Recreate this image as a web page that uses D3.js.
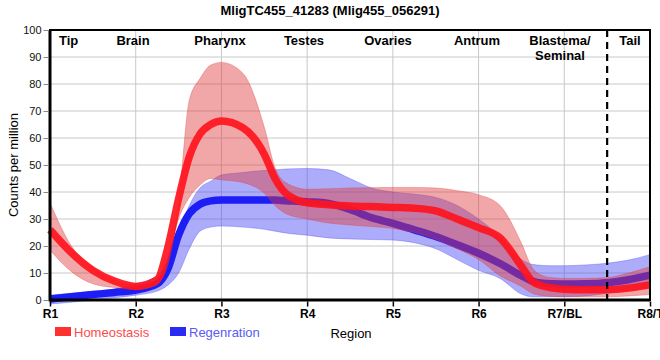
<!DOCTYPE html>
<html><head><meta charset="utf-8">
<script src="https://cdn.jsdelivr.net/npm/d3@7"></script>
<style>
body{margin:0;background:#fff}
svg{display:block;font-family:"Liberation Sans",Arial,sans-serif}
</style>
</head><body>
<svg id="chart" width="660" height="360"></svg>
<script>
// ---------- data ----------
const chartTitle = "MligTC455_41283 (Mlig455_056291)";
const regions = ["R1","R2","R3","R4","R5","R6","R7/BL","R8/T"];
const tissues = ["Tip","Brain","Pharynx","Testes","Ovaries","Antrum","Blastema/\nSeminal","Tail"];
const yTicks = [0,10,20,30,40,50,60,70,80,90,100];
const seriesNames = ["Homeostasis","Regenration"];

// sample positions along the body, in region units (0 = R1 ... 7 = R8/T)
const pos = [0,0.25,0.5,0.75,1,1.25,1.375,1.5,1.625,1.75,1.875,2,2.25,2.5,2.625,2.75,3,3.25,3.5,3.75,4,4.25,4.5,4.75,5,5.25,5.5,5.625,5.75,5.875,6,6.25,6.5,6.75,7];

const homMean  = [26,17.5,11,7,5,7.5,19.5,37.5,53,61.5,65,66.3,63.8,54,45,39.5,36,35.3,34.8,34.6,34.3,34,33,30,26.8,23,12.5,7,5.2,4.4,4,3.8,3.8,4.4,5.6];
const homUpper = [36,20,12,7.5,5.6,6.5,13,36,74,82,87,88,84,64,49,43.5,41,41.2,41.5,41.6,41.7,41.7,41.5,40.5,39,35,21,12,9,8.2,8,8,8.3,10,12.3];
const homLower = [18.5,10.5,6,4.6,3.9,5.5,15,30,38,42.6,45,44.5,43.5,39.5,35,32,30,28.5,27.8,27.2,26.5,25,22.5,19,15,9,5,2.5,1.6,1.3,1.2,1.2,1.2,1.5,2];

const regMean  = [0.4,1.2,2,2.8,3.7,6,11.5,24,32,35.5,36.7,37,37,37,37,36.8,36.4,35.8,33.5,30.5,28.4,26,23.5,20.5,17.3,13.5,9,7,6.2,6,5.9,6,6.4,7.5,9.2];
const regUpper = [1.8,2.5,3.2,4,6,9,15,25,35,41.5,44,46.3,47.2,48,48.2,48.5,48.7,48.2,45,41.5,40,39.2,38,35,30,23.5,15,13.2,12.8,12.7,12.7,13,13.6,14.8,16.8];
const regLower = [-1.5,-0.8,0,0.8,1.8,3.3,5.5,10,19,25.5,27,27.4,27,26.2,25.5,24.8,24,23,22.6,22.4,22.2,21.2,19,15,11,8,2.2,1.2,1.2,1.2,1.2,1.5,2.5,3.5,4.5];

// ---------- layout ----------
const svg = d3.select("#chart");
const L = 50, R = 650, T = 30, B = 300;
const x = d3.scaleLinear().domain([0, regions.length - 1]).range([L, R]);
const y = d3.scaleLinear().domain([0, 100]).range([B, T]);

// grid
svg.append("g").selectAll("line").data(yTicks.slice(1)).join("line")
  .attr("x1", L).attr("x2", R).attr("y1", d => y(d)).attr("y2", d => y(d))
  .attr("stroke", "#c8c8c8").attr("stroke-width", 1);
svg.append("g").selectAll("line").data(regions.slice(1, -1)).join("line")
  .attr("x1", (d, i) => x(i + 1)).attr("x2", (d, i) => x(i + 1))
  .attr("y1", T).attr("y2", B)
  .attr("stroke", "#c8c8c8").attr("stroke-width", 1);

// bands and lines
const pts = (lo, hi) => pos.map((p, i) => ({p, lo: lo[i], hi: hi[i]}));
const area = d3.area().x(d => x(d.p)).y0(d => y(d.lo)).y1(d => y(d.hi)).curve(d3.curveMonotoneX);
const line = d3.line().x(d => x(d.p)).y(d => y(d.v)).curve(d3.curveMonotoneX);
const linePts = m => pos.map((p, i) => ({p, v: m[i]}));

svg.append("path").datum(pts(regLower, regUpper)).attr("d", area)
  .attr("fill", "rgba(70,70,245,0.45)").attr("stroke", "rgba(70,70,245,0.35)").attr("stroke-width", 1);
svg.append("path").datum(linePts(regMean)).attr("d", line)
  .attr("fill", "none").attr("stroke", "#1d1df5").attr("stroke-width", 7.5);
svg.append("path").datum(pts(homLower, homUpper)).attr("d", area)
  .attr("fill", "rgba(225,60,60,0.45)").attr("stroke", "rgba(225,60,60,0.35)").attr("stroke-width", 1);
svg.append("path").datum(linePts(homMean)).attr("d", line)
  .attr("fill", "none").attr("stroke", "rgba(255,20,30,0.92)").attr("stroke-width", 7.5);

// dashed separator between R7 and R8
svg.append("line").attr("x1", x(6.5)).attr("x2", x(6.5)).attr("y1", T).attr("y2", B + 5)
  .attr("stroke", "#000").attr("stroke-width", 2.2).attr("stroke-dasharray", "7,5");

// frame
svg.append("rect").attr("x", L).attr("y", T).attr("width", R - L).attr("height", B - T)
  .attr("fill", "none").attr("stroke", "#000").attr("stroke-width", 2);
svg.append("line").attr("x1", L).attr("x2", R).attr("y1", B).attr("y2", B).attr("stroke", "#000").attr("stroke-width", 3);
svg.append("line").attr("x1", L).attr("x2", L).attr("y1", T).attr("y2", B + 1.5).attr("stroke", "#000").attr("stroke-width", 3);

// axes
const yAxis = svg.append("g").attr("transform", `translate(${L - 1.5},0)`)
  .call(d3.axisLeft(y).tickValues(yTicks).tickSize(5).tickPadding(2));
yAxis.select(".domain").remove();
yAxis.selectAll(".tick line").attr("stroke", "#888");
yAxis.selectAll("text").attr("font-size", 11).attr("fill", "#111")
  .attr("font-family", "'Liberation Sans',Arial,sans-serif");

const xAxis = svg.append("g").attr("transform", `translate(0,${B + 1.5})`)
  .call(d3.axisBottom(x).tickValues(d3.range(regions.length)).tickFormat(i => regions[i]).tickSize(5).tickPadding(3));
xAxis.select(".domain").remove();
xAxis.selectAll(".tick line").attr("stroke", "#000").attr("stroke-width", 1.5);
xAxis.selectAll("text").attr("font-size", 12).attr("font-weight", "bold").attr("fill", "#000")
  .attr("font-family", "'Liberation Sans Narrow','Liberation Sans',Arial,sans-serif");

// tissue labels along the top
const tissueX = [59, 133, 220, 304, 388, 477, 560, 630];
const tissueAnchor = ["start","middle","middle","middle","middle","middle","middle","middle"];
tissues.forEach((t, i) => {
  const lines = t.split("\n");
  const txt = svg.append("text").attr("x", tissueX[i]).attr("y", 45)
    .attr("text-anchor", tissueAnchor[i]).attr("font-size", 13).attr("font-weight", "bold").attr("fill", "#000");
  lines.forEach((s, k) => txt.append("tspan").attr("x", tissueX[i]).attr("dy", k ? 15 : 0).text(s));
});

// title
svg.append("text").attr("x", 330).attr("y", 15).attr("text-anchor", "middle")
  .attr("font-size", 13).attr("font-weight", "bold").text(chartTitle);

// axis titles
svg.append("text").attr("transform", "translate(18,165) rotate(-90)").attr("text-anchor", "middle")
  .attr("font-size", 13).text("Counts per million");
svg.append("text").attr("x", 351).attr("y", 338).attr("text-anchor", "middle")
  .attr("font-size", 13).text("Region");

// legend
const legColors = ["#ff3030", "#2a2af5"];
const legText = ["#ff4a4a", "#5a5af5"];
const legX = [55, 170];
seriesNames.forEach((n, i) => {
  svg.append("rect").attr("x", legX[i]).attr("y", 327).attr("width", 16).attr("height", 9).attr("fill", legColors[i]);
  svg.append("text").attr("x", legX[i] + 19).attr("y", 337).attr("font-size", 13).attr("fill", legText[i]).text(n);
});
</script>
</body></html>
